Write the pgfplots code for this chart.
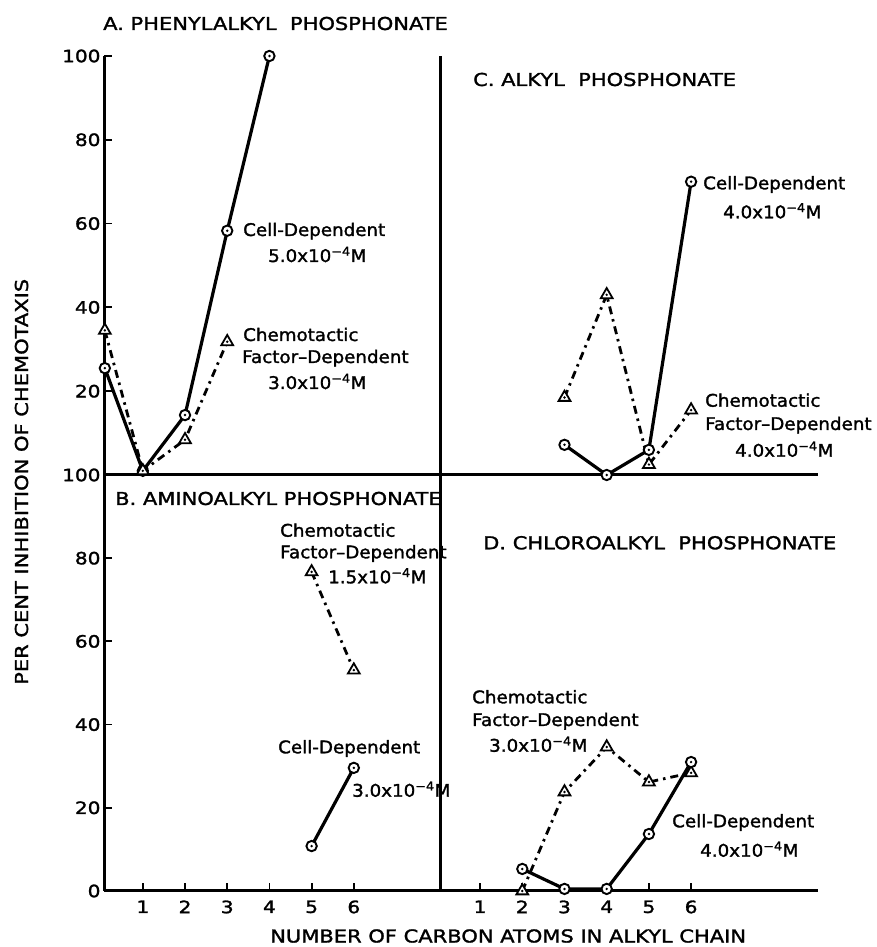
\documentclass[border=0pt]{standalone}
\usepackage{fontspec}
\setmainfont[FakeStretch=1.05, FakeBold=1.6]{DejaVu Sans}
\newfontfamily\capsf[FakeStretch=1.18, FakeBold=1.6]{DejaVu Sans}
\usepackage{pgfplots}
\pgfplotsset{compat=1.18}

\pgfdeclareplotmark{odot}{%
  \pgfpathcircle{\pgfpointorigin}{\pgfplotmarksize}%
  \pgfusepathqfillstroke
  \begin{pgfscope}%
  \pgfsetfillcolor{black}%
  \pgfpathcircle{\pgfpointorigin}{0.26\pgfplotmarksize}%
  \pgfusepathqfill
  \end{pgfscope}%
}
\pgfdeclareplotmark{tdot}{%
  \pgfpathmoveto{\pgfqpointpolar{90}{\pgfplotmarksize}}%
  \pgfpathlineto{\pgfqpointpolar{210}{\pgfplotmarksize}}%
  \pgfpathlineto{\pgfqpointpolar{330}{\pgfplotmarksize}}%
  \pgfpathclose
  \pgfusepathqfillstroke
  \begin{pgfscope}%
  \pgfsetfillcolor{black}%
  \pgfpathcircle{\pgfpointorigin}{0.2\pgfplotmarksize}%
  \pgfusepathqfill
  \end{pgfscope}%
}

\newcommand\annf{\fontsize{17.4}{20}\selectfont}
\newcommand\titf{\capsf\fontsize{17.8}{20}\selectfont}
\newcommand\conc[1]{#1x10\textsuperscript{−4}M}

\pgfplotsset{
  panel/.style={
    scale only axis, clip=false,
    axis x line=bottom, axis y line=left,
    axis line style={-, line width=3pt, black},
    tick align=inside, major tick length=8pt,
    tick style={line width=1.8pt, black},
    ymin=0, ymax=100,
    ticklabel style={font=\capsf\fontsize{17}{20}\selectfont},
    xticklabel style={yshift=-6pt},
    /pgf/number format/assume math mode=true,
  },
  cellp/.style={solid, black, line width=3.2pt, mark=odot, mark size=5.2pt,
    mark options={solid, fill=white, line width=1.9pt}},
  chemp/.style={black, line width=2.8pt, dash pattern=on 8pt off 5pt on 2.5pt off 5pt,
    mark=tdot, mark size=6.8pt, mark options={solid, fill=white, line width=1.8pt}},
}

\begin{document}
\begin{tikzpicture}
% Panel A
\begin{axis}[panel, at={(104pt,472pt)}, anchor=south west,
  width=335.9pt, height=419pt, xmin=0.08, xmax=8.04,
  xtick=\empty, ytick={20,40,60,80,100}]
\addplot[cellp] coordinates {(0.1,25.5) (1,1) (2,14.3) (3,58.3) (4,100)};
\addplot[chemp] coordinates {(0.1,34.5) (1,1) (2,8.4) (3,31.8)};
\end{axis}
% Panel C
\begin{axis}[panel, at={(440pt,472pt)}, anchor=south west,
  width=377.7pt, height=419pt, xmin=0.05, xmax=9,
  xtick=\empty, ytick=\empty]
\addplot[chemp] coordinates {(3,18.5) (4,43) (5,2.5) (6,15.5)};
\addplot[cellp] coordinates {(3,7.2) (4,0) (5,6) (6,70)};
\end{axis}
% Panel B
\begin{axis}[panel, at={(104pt,56pt)}, anchor=south west,
  width=335.9pt, height=416pt, xmin=0.08, xmax=8.04,
  xtick={1,2,3,4,5,6}, ytick={0,20,40,60,80,100}]
\addplot[chemp] coordinates {(5,76.7) (6,53.1)};
\addplot[cellp] coordinates {(5,10.8) (6,29.6)};
\end{axis}
% Panel D
\begin{axis}[panel, at={(440pt,56pt)}, anchor=south west,
  width=377.7pt, height=416pt, xmin=0.05, xmax=9,
  xtick={1,2,3,4,5,6}, ytick=\empty]
\addplot[chemp] coordinates {(2,0) (3,23.8) (4,34.6) (5,26.2) (6,28.4)};
\addplot[cellp] coordinates {(2,5.3) (3,0.5) (4,0.5) (5,13.7) (6,31)};
\end{axis}

% titles
\node[anchor=base west, inner sep=0, font=\titf] at (103pt,917pt) {A. PHENYLALKYL~ PHOSPHONATE};
\node[anchor=base west, inner sep=0, font=\titf] at (473pt,861pt) {C. ALKYL~ PHOSPHONATE};
\node[anchor=base west, inner sep=0, font=\titf] at (115pt,442pt) {B. AMINOALKYL PHOSPHONATE};
\node[anchor=base west, inner sep=0, font=\titf] at (483pt,397.7pt) {D. CHLOROALKYL~ PHOSPHONATE};

% axis labels
\node[anchor=base west, inner sep=0, font=\titf] at (270pt,4.5pt) {NUMBER OF CARBON ATOMS IN ALKYL CHAIN};
\node[anchor=base west, inner sep=0, rotate=90, font=\titf] at (28pt,262pt) {PER CENT INHIBITION OF CHEMOTAXIS};

% annotations A
\node[anchor=base west, inner sep=0, font=\annf] at (243pt,711pt) {Cell-Dependent};
\node[anchor=base west, inner sep=0, font=\annf] at (268pt,685pt) {\conc{5.0}};
\node[anchor=base west, inner sep=0, font=\annf] at (243pt,606pt) {Chemotactic};
\node[anchor=base west, inner sep=0, font=\annf] at (242pt,584pt) {Factor–Dependent};
\node[anchor=base west, inner sep=0, font=\annf] at (268pt,558pt) {\conc{3.0}};
% annotations C
\node[anchor=base west, inner sep=0, font=\annf] at (703pt,757.7pt) {Cell-Dependent};
\node[anchor=base west, inner sep=0, font=\annf] at (723pt,728.7pt) {\conc{4.0}};
\node[anchor=base west, inner sep=0, font=\annf] at (705pt,540.3pt) {Chemotactic};
\node[anchor=base west, inner sep=0, font=\annf] at (705pt,517pt) {Factor–Dependent};
\node[anchor=base west, inner sep=0, font=\annf] at (735pt,490.3pt) {\conc{4.0}};
% annotations B
\node[anchor=base west, inner sep=0, font=\annf] at (280pt,410.3pt) {Chemotactic};
\node[anchor=base west, inner sep=0, font=\annf] at (280pt,388.7pt) {Factor–Dependent};
\node[anchor=base west, inner sep=0, font=\annf] at (328pt,363.7pt) {\conc{1.5}};
\node[anchor=base west, inner sep=0, font=\annf] at (278pt,193.7pt) {Cell-Dependent};
\node[anchor=base west, inner sep=0, font=\annf] at (352pt,150.3pt) {\conc{3.0}};
% annotations D
\node[anchor=base west, inner sep=0, font=\annf] at (472pt,243.7pt) {Chemotactic};
\node[anchor=base west, inner sep=0, font=\annf] at (472pt,221pt) {Factor–Dependent};
\node[anchor=base west, inner sep=0, font=\annf] at (489pt,195.3pt) {\conc{3.0}};
\node[anchor=base west, inner sep=0, font=\annf] at (672pt,119.7pt) {Cell-Dependent};
\node[anchor=base west, inner sep=0, font=\annf] at (700pt,90.3pt) {\conc{4.0}};

\pgfresetboundingbox
\path[use as bounding box] (0,0) rectangle (876pt,947pt);
\end{tikzpicture}
\end{document}
